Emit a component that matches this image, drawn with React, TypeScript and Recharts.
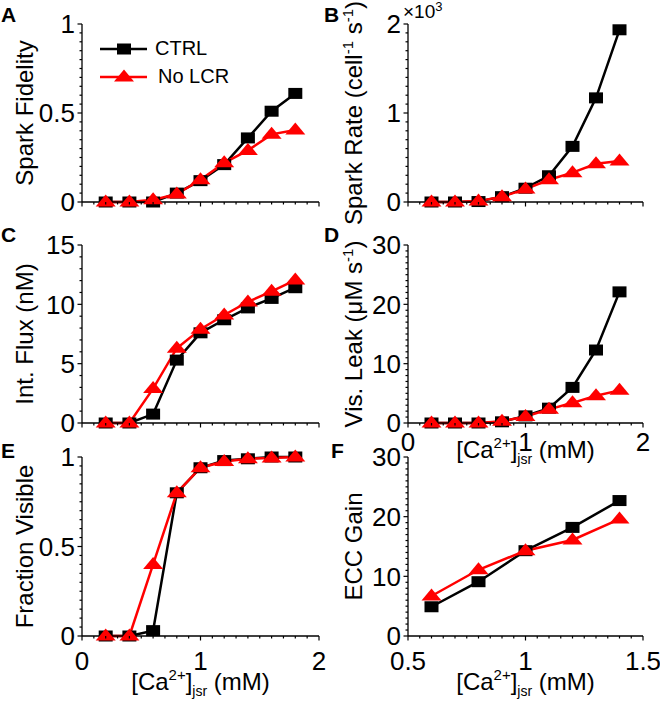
import React from 'react';
import { LineChart, Line, XAxis, YAxis, Legend } from 'recharts';

// [Ca2+]jsr values (mM)
const caX = [0.2, 0.4, 0.6, 0.8, 1.0, 1.2, 1.4, 1.6, 1.8];
const gainX = [0.6, 0.8, 1.0, 1.2, 1.4];

const fidelityCtrl = [0, 0, 0, 0.05, 0.12, 0.21, 0.36, 0.51, 0.61];
const fidelityNoLcr = [0, 0, 0.012, 0.045, 0.125, 0.22, 0.29, 0.38, 0.405];

// x10^3 cell-1 s-1
const rateCtrl = [0, 0, 0.005, 0.06, 0.155, 0.295, 0.625, 1.17, 1.935];
const rateNoLcr = [0, 0, 0.01, 0.06, 0.145, 0.25, 0.33, 0.43, 0.46];

const fluxCtrl = [0, 0, 0.75, 5.3, 7.6, 8.7, 9.7, 10.5, 11.4];
const fluxNoLcr = [0, 0, 2.9, 6.3, 7.9, 9.1, 10.2, 11.1, 12.05];

const leakCtrl = [0, 0, 0, 0.2, 1.2, 2.5, 6.0, 12.3, 22.1];
const leakNoLcr = [0, 0, 0, 0.3, 1.1, 2.3, 3.4, 4.6, 5.5];

const visibleCtrl = [0, 0, 0.03, 0.8, 0.94, 0.98, 0.99, 1.0, 1.0];
const visibleNoLcr = [0, 0, 0.4, 0.8, 0.94, 0.975, 0.99, 0.995, 1.0];

const gainCtrl = [4.9, 9.1, 14.3, 18.2, 22.7];
const gainNoLcr = [6.7, 11.1, 14.3, 16.1, 19.6];

const range = (a: number, b: number, s: number) => {
  const out: number[] = [];
  for (let v = a; v <= b + 1e-9; v += s) out.push(Math.round(v * 1000) / 1000);
  return out;
};

const caTicks = range(0, 2, 0.1);
const gainTicks = range(0.5, 1.5, 0.05);

const build = (xs: number[], ctrl: number[], nolcr: number[]) =>
  xs.map((x, i) => ({ x, ctrl: ctrl[i], nolcr: nolcr[i] }));

const FONT = '"Liberation Sans", Arial, Helvetica, sans-serif';
const TICK_FS = 26;
const LABEL_FS = 24;

const isMajor = (v: number, step: number) => Math.abs(v / step - Math.round(v / step)) < 1e-6;

const xTick = (step: number, showLabel: boolean, dy: number) => (props: any) => {
  const { x, y, payload } = props;
  const v = payload.value;
  const major = isMajor(v, step);
  const len = major ? 4.5 : 2.5;
  return (
    <g>
      <line x1={x} x2={x} y1={y} y2={y + len} stroke="#000" strokeWidth={1.2} />
      {major && showLabel && (
        <text x={x} y={y + dy} textAnchor="middle" fontSize={TICK_FS} fill="#000" fontFamily={FONT}>
          {String(v)}
        </text>
      )}
    </g>
  );
};

const yTick = (step: number) => (props: any) => {
  const { x, y, payload } = props;
  const v = payload.value;
  const major = isMajor(v, step);
  const len = major ? 4.5 : 2.5;
  return (
    <g>
      <line x1={x} x2={x - len} y1={y} y2={y} stroke="#000" strokeWidth={1.2} />
      {major && (
        <text x={x - 7} y={y} dy="0.36em" textAnchor="end" fontSize={TICK_FS} fill="#000" fontFamily={FONT}>
          {String(v)}
        </text>
      )}
    </g>
  );
};

const yLabel = (parts: React.ReactNode, bx: number) => ({ viewBox }: any) => {
  const cy = viewBox.y + viewBox.height / 2;
  return (
    <text x={bx} y={cy} transform={`rotate(-90 ${bx} ${cy})`} textAnchor="middle" fontSize={LABEL_FS} fill="#000" fontFamily={FONT}>
      {parts}
    </text>
  );
};

const caLabel = (off: number) => ({ viewBox }: any) => {
  const cx = viewBox.x + viewBox.width / 2;
  const y = viewBox.y + off;
  return (
    <text x={cx} y={y} textAnchor="middle" fontSize={LABEL_FS} fill="#000" fontFamily={FONT}>
      <tspan>[Ca</tspan>
      <tspan dy={-10} fontSize={15}>2+</tspan>
      <tspan dy={10}>]</tspan>
      <tspan dy={6} fontSize={14}>jsr</tspan>
      <tspan dy={-6}> (mM)</tspan>
    </text>
  );
};

const squareDot = (p: any) => (
  <rect key={`sq-${p.index}`} x={p.cx - 7} y={p.cy - 5.5} width={14} height={11} fill="#000" />
);
const triDot = (p: any) => (
  <polygon
    key={`tr-${p.index}`}
    points={`${p.cx - 10},${p.cy + 4.5} ${p.cx + 10},${p.cy + 4.5} ${p.cx},${p.cy - 7.5}`}
    fill="#ff0000"
  />
);

const LegendBox = () => (
  <svg width={170} height={60} style={{ overflow: 'visible' }}>
    <line x1={4} x2={51} y1={13} y2={13} stroke="#000" strokeWidth={2.5} />
    <rect x={21} y={7.5} width={14} height={11} fill="#000" />
    <text x={59} y={19} fontSize={20} fontFamily={FONT} fill="#000">CTRL</text>
    <line x1={4} x2={51} y1={41} y2={41} stroke="#ff0000" strokeWidth={2.5} />
    <polygon points="18,45.5 38,45.5 28,33.5" fill="#ff0000" />
    <text x={62} y={47} fontSize={20} fontFamily={FONT} fill="#000">No LCR</text>
  </svg>
);

type PanelProps = {
  left: number;
  top: number;
  height: number;
  marginTop: number;
  marginRight: number;
  yWidth: number;
  xHeight: number;
  data: any[];
  xDomain: [number, number];
  xTicks: number[];
  xMajor: number;
  showXLabels: boolean;
  xTickDy: number;
  xLabelOff?: number;
  yDomain: [number, number];
  yTicks: number[];
  yMajor: number;
  yLabelNode: React.ReactNode;
  yLabelX: number;
  legend?: boolean;
};

const Panel = (p: PanelProps) => (
  <div style={{ position: 'absolute', left: p.left, top: p.top }}>
    <LineChart
      width={330}
      height={p.height}
      data={p.data}
      margin={{ top: p.marginTop, right: p.marginRight, bottom: 0, left: 0 }}
      style={{ overflow: 'visible' }}
    >
      <XAxis
        dataKey="x"
        type="number"
        domain={p.xDomain}
        ticks={p.xTicks}
        interval={0}
        height={p.xHeight}
        tickLine={false}
        tickSize={0}
        tickMargin={0}
        axisLine={{ stroke: '#000', strokeWidth: 1.3 }}
        tick={xTick(p.xMajor, p.showXLabels, p.xTickDy)}
        label={p.xLabelOff !== undefined ? caLabel(p.xLabelOff) : undefined}
      />
      <YAxis
        type="number"
        domain={p.yDomain}
        ticks={p.yTicks}
        interval={0}
        width={p.yWidth}
        tickLine={false}
        tickSize={0}
        tickMargin={0}
        axisLine={{ stroke: '#000', strokeWidth: 1.3 }}
        tick={yTick(p.yMajor)}
        label={yLabel(p.yLabelNode, p.yLabelX)}
      />
      {p.legend && (
        <Legend
          layout="vertical"
          align="center"
          verticalAlign="middle"
          content={<LegendBox />}
          wrapperStyle={{ left: 96, top: 36, width: 170, height: 60 }}
        />
      )}
      <Line
        dataKey="ctrl"
        name="CTRL"
        stroke="#000"
        strokeWidth={2.5}
        dot={squareDot}
        activeDot={false}
        isAnimationActive={false}
      />
      <Line
        dataKey="nolcr"
        name="No LCR"
        stroke="#ff0000"
        strokeWidth={2.5}
        dot={triDot}
        activeDot={false}
        isAnimationActive={false}
      />
    </LineChart>
  </div>
);

export default function App() {
  return (
    <div
      style={{
        position: 'absolute',
        left: 0,
        top: 0,
        width: 660,
        height: 703,
        background: '#fff',
        fontFamily: FONT,
        overflow: 'hidden',
      }}
    >
      {/* A */}
      <Panel
        left={0} top={0} height={232} marginTop={24} marginRight={11} yWidth={82} xHeight={30}
        data={build(caX, fidelityCtrl, fidelityNoLcr)}
        xDomain={[0, 2]} xTicks={caTicks} xMajor={1} showXLabels={false} xTickDy={0}
        yDomain={[0, 1]} yTicks={range(0, 1, 0.05)} yMajor={0.5}
        yLabelNode="Spark Fidelity" yLabelX={33} legend
      />
      {/* B */}
      <Panel
        left={330} top={0} height={232} marginTop={24} marginRight={17} yWidth={78} xHeight={30}
        data={build(caX, rateCtrl, rateNoLcr)}
        xDomain={[0, 2]} xTicks={caTicks} xMajor={1} showXLabels={false} xTickDy={0}
        yDomain={[0, 2]} yTicks={range(0, 2, 0.1)} yMajor={1}
        yLabelNode={[
          <tspan key="t">Spark Rate (cell</tspan>,
          <tspan key="s1" dy={-9} fontSize={15}>-1</tspan>,
          <tspan key="u" dy={9}> s</tspan>,
          <tspan key="s2" dy={-9} fontSize={15}>-1</tspan>,
          <tspan key="w" dy={9}>)</tspan>,
        ]}
        yLabelX={32}
      />
      {/* C */}
      <Panel
        left={0} top={220} height={243} marginTop={25} marginRight={11} yWidth={82} xHeight={40}
        data={build(caX, fluxCtrl, fluxNoLcr)}
        xDomain={[0, 2]} xTicks={caTicks} xMajor={1} showXLabels={false} xTickDy={0}
        yDomain={[0, 15]} yTicks={range(0, 15, 1)} yMajor={5}
        yLabelNode="Int. Flux (nM)" yLabelX={33}
      />
      {/* D */}
      <Panel
        left={330} top={220} height={258} marginTop={25} marginRight={17} yWidth={78} xHeight={55}
        data={build(caX, leakCtrl, leakNoLcr)}
        xDomain={[0, 2]} xTicks={caTicks} xMajor={1} showXLabels xTickDy={28} xLabelOff={35}
        yDomain={[0, 30]} yTicks={range(0, 30, 1)} yMajor={10}
        yLabelNode={[
          <tspan key="t">Vis. Leak (μM s</tspan>,
          <tspan key="s" dy={-9} fontSize={15}>-1</tspan>,
          <tspan key="w" dy={9}>)</tspan>,
        ]}
        yLabelX={32}
      />
      {/* E */}
      <Panel
        left={0} top={440} height={263} marginTop={17} marginRight={11} yWidth={82} xHeight={67}
        data={build(caX, visibleCtrl, visibleNoLcr)}
        xDomain={[0, 2]} xTicks={caTicks} xMajor={1} showXLabels xTickDy={34} xLabelOff={54}
        yDomain={[0, 1]} yTicks={range(0, 1, 0.05)} yMajor={0.5}
        yLabelNode="Fraction Visible" yLabelX={33}
      />
      {/* F */}
      <Panel
        left={330} top={440} height={263} marginTop={17} marginRight={17} yWidth={78} xHeight={67}
        data={build(gainX, gainCtrl, gainNoLcr)}
        xDomain={[0.5, 1.5]} xTicks={gainTicks} xMajor={0.5} showXLabels xTickDy={34} xLabelOff={54}
        yDomain={[0, 30]} yTicks={range(0, 30, 1)} yMajor={10}
        yLabelNode="ECC Gain" yLabelX={32}
      />
      <svg
        width={660}
        height={703}
        style={{ position: 'absolute', left: 0, top: 0, pointerEvents: 'none' }}
        fontFamily={FONT}
      >
        <g fontSize={21} fontWeight="bold" fill="#000">
          <text x={1} y={22}>A</text>
          <text x={324} y={22}>B</text>
          <text x={1} y={242}>C</text>
          <text x={324} y={242}>D</text>
          <text x={1} y={458}>E</text>
          <text x={331} y={458}>F</text>
        </g>
        <text x={403} y={18} fontSize={19} fill="#000">
          ×10<tspan dy={-7} fontSize={13}>3</tspan>
        </text>
      </svg>
    </div>
  );
}
